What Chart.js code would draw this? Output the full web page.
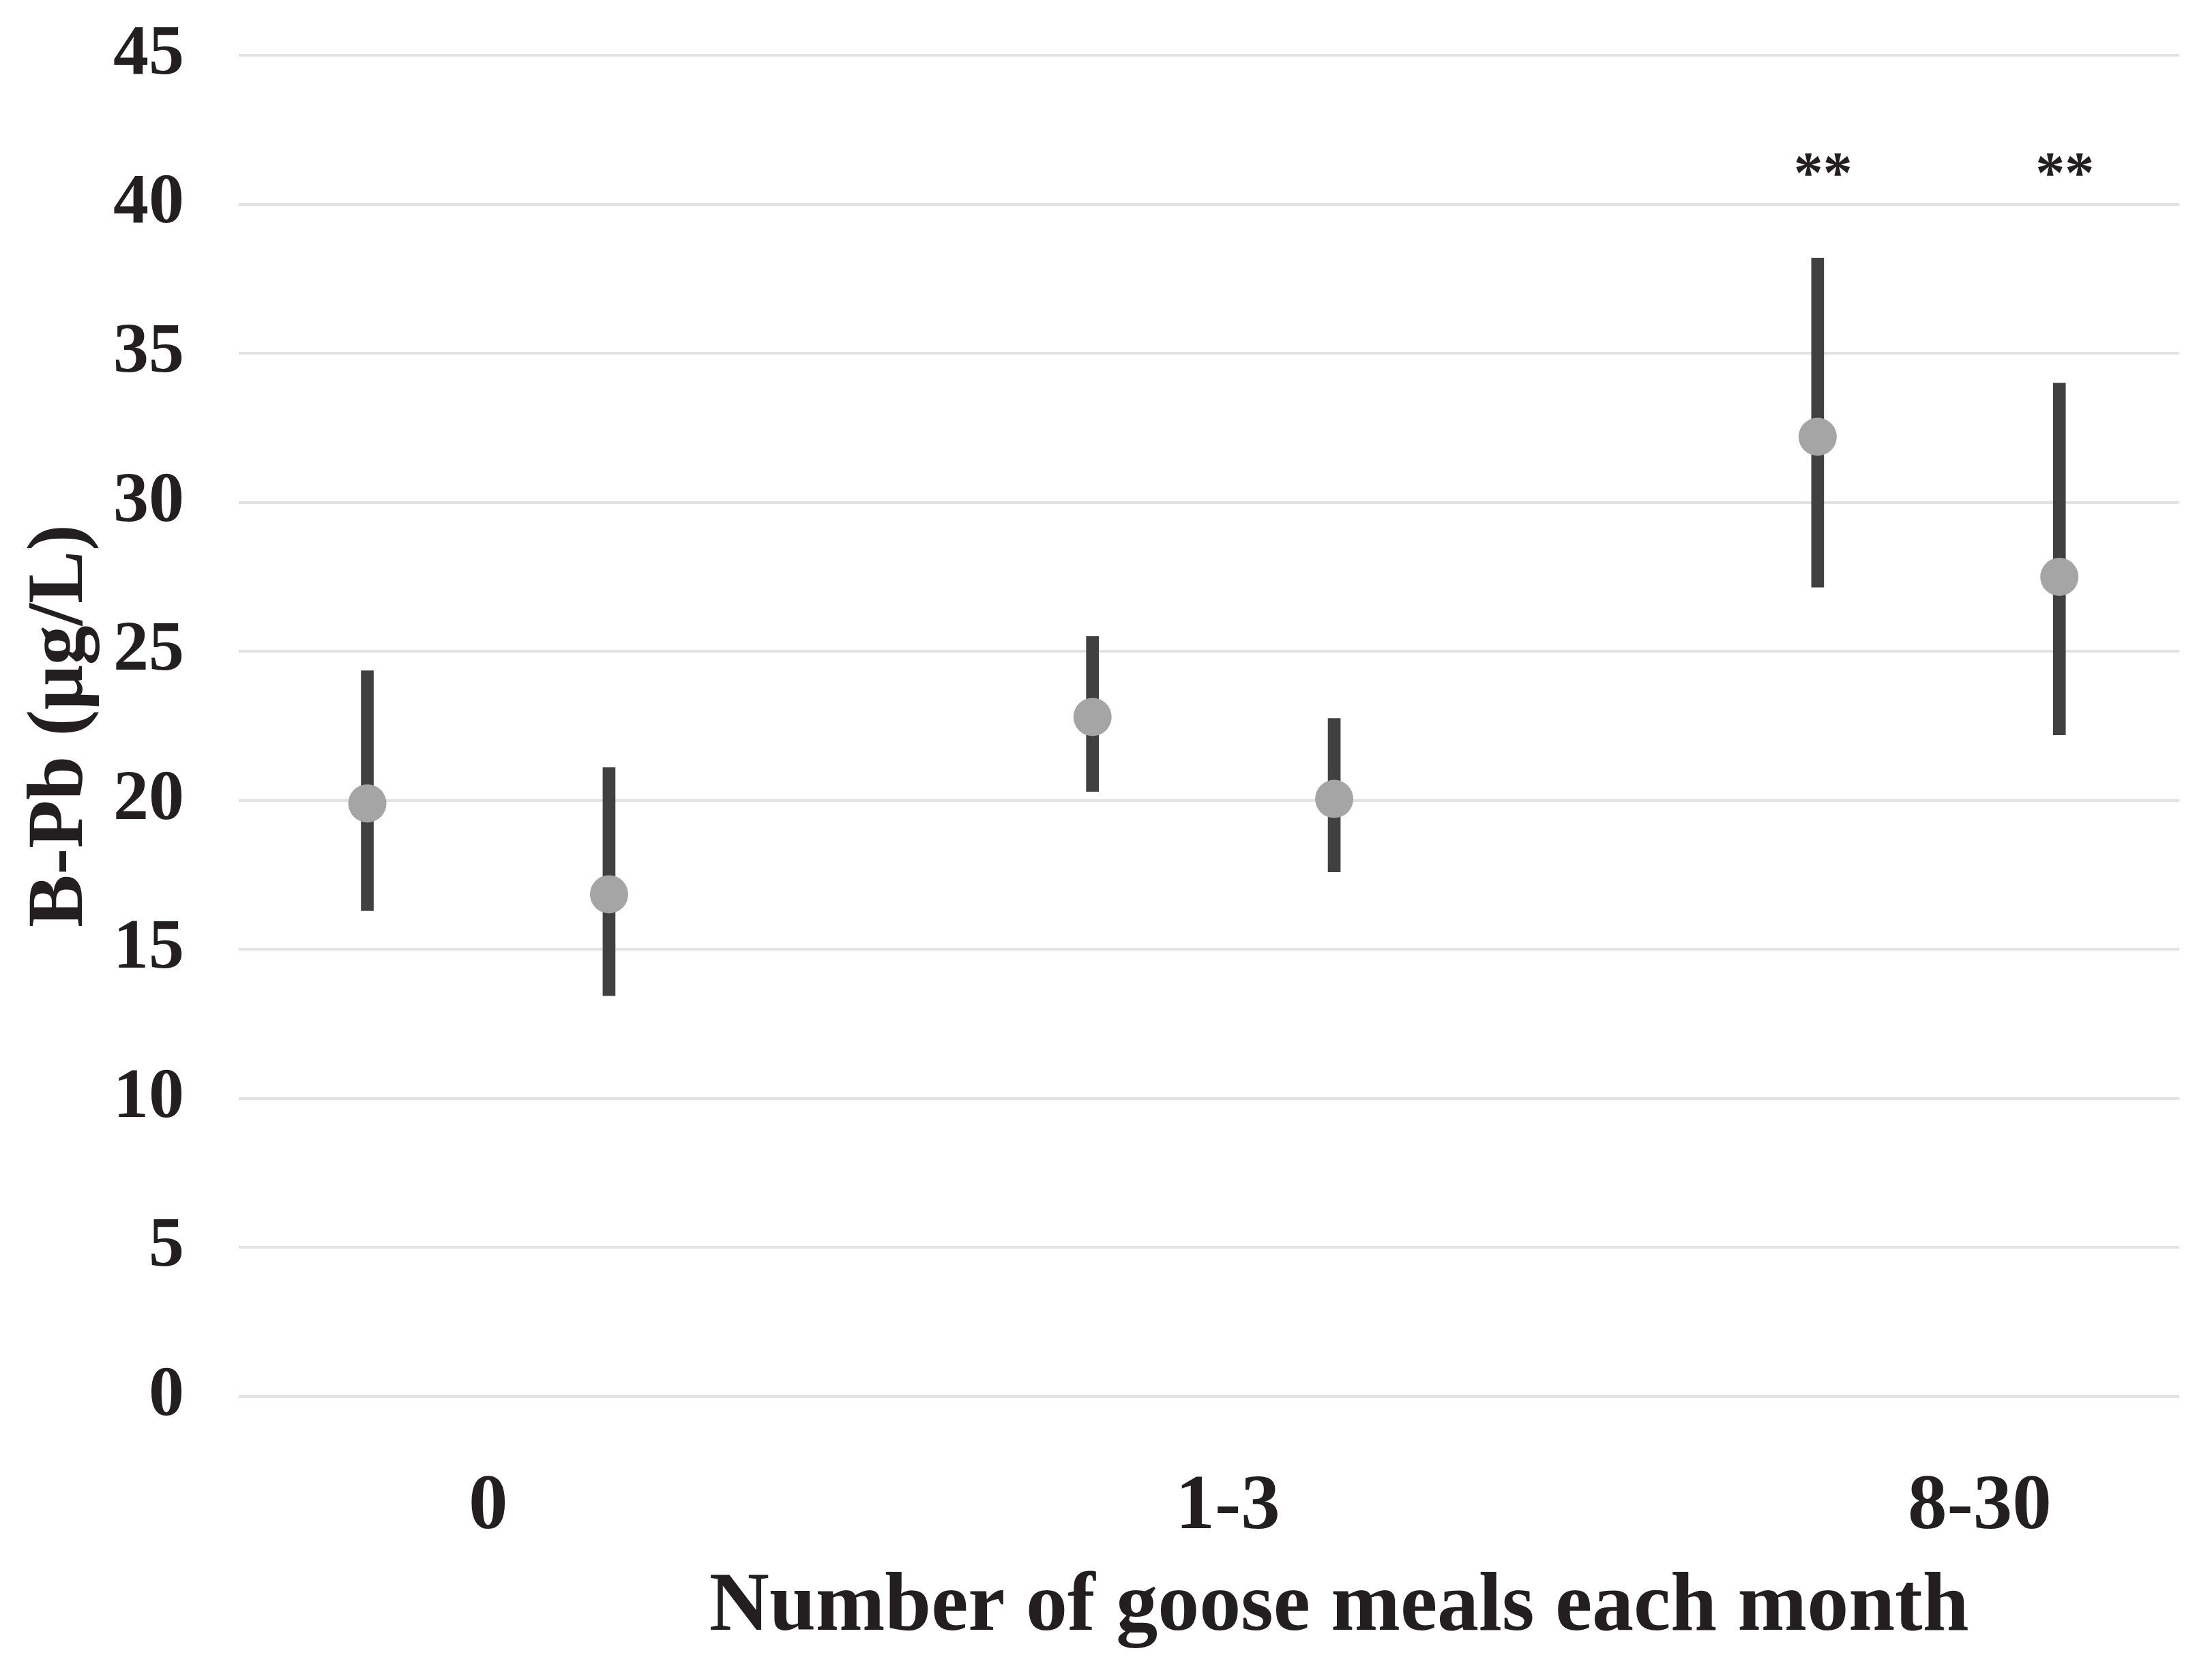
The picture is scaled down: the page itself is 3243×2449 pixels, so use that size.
<!DOCTYPE html>
<html>
<head>
<meta charset="utf-8">
<title>B-Pb by goose meals</title>
<script src="https://cdn.jsdelivr.net/npm/chart.js@4"></script>
<style>
  html, body { margin: 0; padding: 0; background: #fff; }
  canvas { display: block; }
</style>
</head>
<body>
<canvas id="chart" width="3243" height="2449"></canvas>
<script>
// groups on the x axis
const groups = ['0', '1-3', '8-30'];

// first point of each group
const meanA = [19.9, 22.8, 32.2];
const lowA = [16.3, 20.3, 27.15];
const highA = [24.35, 25.5, 38.2];

// second point of each group
const meanB = [16.85, 20.05, 27.5];
const lowB = [13.45, 17.6, 22.2];
const highB = [21.1, 22.75, 34.0];

// significance marks
const marksA = ['', '', '**'];
const marksB = ['', '', '**'];

const yTicks = [0, 5, 10, 15, 20, 25, 30, 35, 40, 45];

const FONT = "'Liberation Serif', 'Times New Roman', serif";
const TEXT = '#231f20';

// x slot of a point: 3 slots per group, second point one slot to the right
const slot = (g, s) => g * 3 + s;

const points = [];
const bars = [];
const marks = [];
groups.forEach((g, i) => {
  points.push({ x: slot(i, 0), y: meanA[i] }, { x: slot(i, 1), y: meanB[i] });
  bars.push({ x: slot(i, 0), y: [lowA[i], highA[i]] }, { x: slot(i, 1), y: [lowB[i], highB[i]] });
  marks.push(marksA[i], marksB[i]);
});

const extraText = {
  id: 'extraText',
  afterDraw(chart) {
    const { ctx, scales: { x, y } } = chart;
    ctx.save();
    ctx.fillStyle = TEXT;
    ctx.textAlign = 'center';
    ctx.textBaseline = 'alphabetic';
    // asterisks above the points
    ctx.font = `bold 86px ${FONT}`;
    points.forEach((p, i) => {
      if (marks[i]) ctx.fillText(marks[i], x.getPixelForValue(p.x) + 8, y.getPixelForValue(40.4));
    });
    // x axis title
    ctx.font = `bold 122px ${FONT}`;
    ctx.fillText('Number of goose meals each month', x.getPixelForValue(4.02), 2390);
    ctx.restore();
  }
};

new Chart(document.getElementById('chart'), {
  type: 'scatter',
  data: {
    datasets: [
      {
        type: 'scatter',
        data: points,
        pointRadius: 28,
        pointHoverRadius: 28,
        pointBackgroundColor: '#a5a5a5',
        pointBorderWidth: 0,
        borderColor: '#a5a5a5',
        order: 0
      },
      {
        type: 'bar',
        data: bars,
        backgroundColor: '#404040',
        barThickness: 18,
        grouped: false,
        order: 1
      }
    ]
  },
  options: {
    responsive: false,
    animation: false,
    events: [],
    layout: { padding: { top: 81, right: 48, bottom: 0, left: 0 } },
    plugins: {
      legend: { display: false },
      tooltip: { enabled: false }
    },
    scales: {
      x: {
        type: 'linear',
        min: -0.532,
        max: 7.496,
        offset: false,
        grid: { display: false, drawTicks: false },
        border: { display: false },
        afterBuildTicks: s => {
          const nudge = [0.0, 0.06, 0.17];
          s.ticks = groups.map((g, i) => ({ value: slot(i, 0.5) + nudge[i] }));
        },
        afterFit: s => { s.height = 401; s.paddingLeft = 0; s.paddingRight = 0; },
        ticks: {
          autoSkip: false,
          maxRotation: 0,
          padding: 94,
          color: TEXT,
          font: { family: FONT, size: 115, weight: 'bold' },
          callback: (v, i) => groups[i]
        }
      },
      y: {
        min: 0,
        max: 45,
        grid: { color: '#e2e2e2', lineWidth: 4, drawTicks: false },
        border: { display: false },
        afterBuildTicks: s => { s.ticks = yTicks.map(v => ({ value: v })); },
        afterFit: s => { s.width = 350; s.paddingTop = 0; s.paddingBottom = 0; },
        ticks: {
          padding: 80,
          color: TEXT,
          font: { family: FONT, size: 104, weight: 'bold' }
        },
        title: {
          display: true,
          text: 'B-Pb (μg/L)',
          color: TEXT,
          padding: { top: 20, bottom: 0 },
          font: { family: FONT, size: 116, weight: 'bold' }
        }
      }
    }
  },
  plugins: [extraText]
});
</script>
</body>
</html>
